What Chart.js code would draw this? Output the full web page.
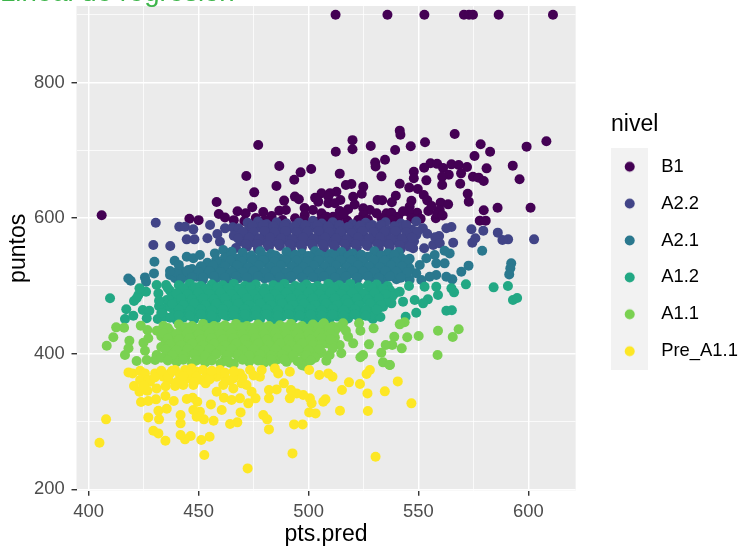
<!DOCTYPE html>
<html><head><meta charset="utf-8">
<style>html,body{margin:0;padding:0;background:#fff}canvas{display:block}</style>
<script src="https://cdn.jsdelivr.net/npm/chart.js@4"></script>
</head><body><canvas id="c" width="742" height="548"></canvas>
<script>
const niveles = ['B1','A2.2','A2.1','A1.2','A1.1','Pre_A1.1'];
const colores = ['#440154','#414487','#2A788E','#22A884','#7AD151','#FDE725'];
const xMajor = [400,450,500,550,600];
const xMinor = [425,475,525,575];
const yMajor = [200,400,600,800];
const yMinor = [300,500,700,900];
// x,y pairs
const B1 = [512.3,900,535.9,900,552.7,900,570.7,900,573,900,574.8,900,586.5,900,611.2,900,
541.5,729,541.8,723,566.5,724,553,712,546.5,706,520,715,520,701.5,528.3,706.4,512.4,698,539.4,700.5,578.3,709,582.6,698,575.5,691.6,599.2,705.4,608.2,713.3,
534.8,686,530.3,682,530.5,676,592.9,677.4,581,673.4,514.2,665.6,533.2,661.6,555.5,680.8,558.5,680,561.2,674,565,679.3,568.3,678.4,572.1,675.4,552.6,674.4,547.9,668.5,547.9,658.7,569.4,666,563.8,664,560.8,661,553.6,655.7,574.8,661,577.4,659.7,579.7,654.8,596,657.2,569,650.8,560.8,648.9,541.5,650.8,545.8,645,549.7,643,519.5,650.3,517,648.9,524.9,646.4,524.2,636,520.3,631.6,512.7,639,509.7,636.6,514.5,626.7,572.4,636,572.9,624.3,552.4,634,554,626.2,539.7,633,537.9,623.3,531.4,626.7,533.5,626.3,546.8,625.7,546,616.9,560.1,622.8,563.5,620.3,559.7,612,554.5,610.5,549.4,608,545.5,609.5,586,615.4,601,615.4,579.7,611.5,577.9,596.3,580.6,596.3,557.9,599.7,558.5,607,546.8,599.7,540.8,602,535.5,607,537.7,608,533.2,599.7,527.9,612,524.9,614.4,524.9,604.6,522.6,597.2,518,613,514.2,610.5,517.6,596.3,511.2,602,513.5,600,
405.9,604.1,445.8,599.2,477.1,707.9,486.7,676.9,471.7,662.1,496.4,667.5,501.2,672.5,493.5,656.7,485.4,647.4,475.3,638,458.2,623.8,459.2,606.1,467.7,610,471.4,607,474.4,615.9,470.8,595.8,479.4,609,483.2,603.1,483.2,595.8,486.7,611,488.9,625.8,489.7,612,488.2,597.2,493.8,631.7,495.6,627.7,498.2,615,498.3,604.6,493.9,599.7,505.9,636.6,504.4,624.3,509,631.7,505.9,607,509,621.8,508.2,602.2,
502,612,507,598,503,630,512,622,516,606,521,620,527,598,531,607,538,597,543,610,551,599,556,618,561,604,505,596,498,597,476,600,480,597,466,597,462,601,450,597];
const A22 = [602.6,568.7,590.8,568.7,588.2,567.7,579.5,581.5,574.1,583.5,586.1,578.6,575.9,570.2,574.5,563.8,565.8,563.8,565,586.9,562.7,585,559.4,573.6,557.6,571.7,552.6,555.5,556.7,560.4,559.7,562.8,547.6,555.5,
429.4,560.3,437.1,558.9,430.5,593.3,441.2,587.4,443.8,587.4,447.6,583.4,444.6,568.7,448.1,568.7,454,570.2,455.2,589.8,458.5,576.6,459.7,565.2,462,584.9,465.5,586.4,
472.3,593,477,595,481,591,485.5,594,490,592,495.6,593,502,596,506,592,511,594,520,591,526,593,529,590,535,594,542,592,549,595,
468.2,585,473,583,477.6,586,482,584,487,582,492,585,497,583,502,586,507,584,512,582,517,585,522,583,527,586,532,584,537,582,542,586,547,583,552,585,
466,574,471,576,475.5,573,480,577,485,574,490,576,495,572,500,575,505,577,510,574,515,576,520,573,525,575,530,577,535,574,540,576,545,573,549,575,554,577,
469,566,474,564,479,567,484,565,489,568,494,564,499,566,504,568,509,565,514,567,519,564,524,566,529,568,534,565,539,567,544,564,548,566,
467,556,472,558,477,555,482,557,487,559,492,555,497,557,502,559,507,556,512,558,517,555,522,557,527,559,532,556,537,558,542,555,546,558,
474.5,589,479.5,590,484,588,489,590,493.5,588,498.5,590,504,589,509,588,514,590,518,587,523.5,589,528,587,533,590,539,588,544.5,590,
470,580,475,579,480,581,484.5,579,489.5,581,494.5,579,499.5,580,504.5,581,509.5,579,514.5,580,519.5,578,524.5,581,529.5,579,534.5,580,539.5,581,544.5,579,549.5,580,
468,570,473,571,477.5,570,482.5,571,487.5,570,492.5,569,497.5,571,502.5,570,507.5,571,512.5,570,517.5,569,522.5,571,527.5,570,532.5,571,537.5,569,542.5,570,547,571,
471.5,561,476.5,562,481.5,560,486.5,562,491.5,561,496.5,560,501.5,562,506.5,561,511.5,560,516.5,562,521.5,561,526.5,560,531.5,562,536.5,561,541.5,560];
const A21 = [579,552,572.8,529.9,569.5,521,592.2,533.3,591.8,526,591.3,517,565.4,509.7,562.7,513.6,558.1,516,555.1,513.6,551.3,508.7,561.9,533.3,558.1,533.3,564.2,548,561.9,552,557.4,545.6,553.6,540.7,550.6,530.8,549,518.6,
418,511,419.1,507.7,425.6,512.6,426.1,506.3,429.7,518.5,429.9,535.7,439.1,537.2,437,516,439.3,511.2,441.5,523.5,444.6,543,447.6,540.7,450.6,545.6,445.3,523.5,449.1,513.6,453.7,528.4,457.4,548,461.2,553,465,550.5,458.2,533.3,
470,549,478,551,483,547,490,550,497,548,503,551,510,547,515,550,520,548,530,551,536,548,541,550,
462,542,467,540,472,542,477,539,482,542,487,540,492,543,497,539,502,541,507,543,512,540,517,542,522,539,527,543,532,541,537,539,542,542,546,540,
454,534,460,532,465,535,470,533,475,531,480,534,485,532,490,535,495,533,500,531,505,534,510,532,515,535,520,531,525,534,530,532,535,535,540,531,545,534,
447,525,452,524,457,526,462,523,467,526,472,524,477,527,482,524,487,526,492,523,497,526,502,524,507,527,512,524,517,526,522,523,527,526,532,524,537,527,542,524,546,526,
443,517,449,516,454,518,459,516,464,518,469,515,474,518,479,516,484,518,489,515,494,517,499,519,504,516,509,518,514,515,519,518,524,516,529,518,534,515,539,517,544,516,
446,510,452,509,458,511,463,508,468,511,474,509,480,511,486,508,492,511,498,509,504,511,510,508,516,511,522,509,528,511,534,508,540,510,546,509,
465,546,474,545,479.5,544,485,545,494,546,500,544,505,546,512,545,518,544,524,546,533,545,539,546,
458,538,464.5,537,469.5,536,474.5,537,479.5,538,484.5,536,489.5,538,494.5,537,499.5,536,504.5,538,509.5,536,514.5,538,519.5,537,524.5,536,529.5,538,534.5,537,539.5,536,544.5,538,
451,529,456.5,530,462,529,467.5,530,472.5,528,477.5,530,482.5,528,487.5,530,492.5,529,497.5,528,502.5,530,507.5,529,512.5,530,517.5,528,522.5,530,527.5,529,532.5,528,537.5,530,542.5,529,
445,521,450,520,455,522,460,520,465,521,470,520,475,522,480,520,485,522,490,520,495,522,500,521,505,520,510,522,515,520,520,522,525,521,530,520,535,522,540,521,545,520,
447,513,452,512,457,514,462,512,467,514,472,512,477,514,482,512,487,513,492,514,497,512,502,513,507,514,512,512,517,514,522,512,527,514,532,512,537,514,542,512,
440,520,441,531,442,510,437,522];
const A12 = [409.7,481.7,417.1,465.5,416.5,451.2,420.3,456.1,424.6,464.5,427.6,463.5,426.4,452.2,420.6,477.7,422.6,486.6,426.1,491.5,423.1,496.4,430.9,501.3,431.7,489,435.2,501.3,435.5,479.2,434,466.9,431.4,451.2,434.7,454.6,440,449.7,421.8,481.7,
509.6,451.2,529.3,451.2,532.7,454.1,544.2,454.6,549,460.5,562.7,463.5,565.2,464,593,479.2,594.9,482.2,590.7,499.9,584.2,497.9,571.6,502.3,566.2,490.5,565,496.4,558.9,486.6,558.1,498.9,554.3,480.2,552.1,474.3,548.3,479.2,545.7,499.9,543,476.8,541.5,491.5,537.7,474.3,539.2,489,533.9,469.4,552.8,498.9,
441,501,446,503,451,500,456,502,461,501,466,503,471,500,476,502,484,501,489,503,494,500,499,502,504,500,509,503,514,501,519,503,527,501,531,502,536,500,
437,493,442,492,447,494,452,491,457,493,462,495,467,492,472,494,477,491,482,493,487,495,492,492,497,494,502,491,507,493,512,495,517,492,522,494,527,491,532,493,537,494,
438,484,443,486,448,483,453,485,458,487,463,484,468,486,473,483,478,485,483,487,488,484,493,486,498,483,503,485,508,487,513,484,518,486,523,483,528,485,533,487,538,484,
440,477,445,475,450,478,455,476,460,478,465,475,470,477,475,479,480,476,485,478,490,475,495,477,500,479,505,476,510,478,515,475,520,477,525,479,530,476,535,478,
437,469,442,468,447,470,452,467,457,469,462,471,467,468,472,470,477,467,482,469,487,471,492,468,497,470,502,467,507,469,512,471,517,468,522,470,527,467,532,468,
439,461,444,460,449,462,454,459,459,461,464,463,469,460,474,462,479,459,484,461,489,463,494,460,499,462,504,459,509,461,514,463,519,460,524,462,529,459,
437,453,443,453,448,451,453,454,458,452,463,455,468,452,473,454,478,451,483,453,488,455,493,452,498,454,503,451,508,453,513,455,518,452,523,454,528,455,
455,447,470,447,485,448,500,447,
443,497,448.5,498,453.5,496,458.5,498,463.5,497,468.5,496,473.5,498,480,497,486.5,498,491.5,496,496.5,498,501.5,497,506.5,496,511.5,498,516.5,497,523,498,529,497,534,496,
440,489,445,488,450,490,455,488,460,490,465,488,470,490,475,488,480,490,485,488,490,490,495,488,500,490,505,488,510,490,515,488,520,490,525,488,530,490,535,488,
442,481,447,480,452,482,457,480,462,482,467,480,472,482,477,480,482,482,487,480,492,482,497,480,502,482,507,480,512,482,517,480,522,482,527,480,532,482,
438,473,443,472,448,474,453,472,458,474,463,472,468,474,473,472,478,474,483,472,488,474,493,472,498,474,503,472,508,474,513,472,518,474,523,472,528,474,533,472,
441,465,446,464,451,466,456,464,461,466,466,464,471,466,476,464,481,466,486,464,491,466,496,464,501,466,506,464,511,466,516,464,521,466,526,464,531,465,
441,457,446,456,451,458,456,456,461,458,466,456,471,458,476,456,481,458,486,456,491,458,496,456,501,458,506,456,511,458,516,456,521,458,526,456,
432,470,433,460,432,478,436,497];
const A11 = [408.2,411.9,411.2,424.2,412.5,438.9,416.1,438.4,418.5,419.2,418.1,408,416.5,398.1,423.7,441.4,426.7,435,427.1,422.7,424.9,416.3,425.6,404.5,430.9,398.1,421.8,389.3,426.4,390.8,430.2,390.8,435.5,393.2,
558.9,434,568.3,436,565.6,424.6,558.7,398.1,550.1,426.1,544.9,424.2,539,425.1,543.7,446.3,541.5,443.3,542.4,407.9,538.1,412.9,535.1,412.9,533.1,401.5,533.9,387.3,536.9,383.4,529.6,437.4,527.5,413.8,523.6,434,523,444.8,524.8,398.1,523.6,394.7,520.3,415.3,518,425.1,515.7,444.8,513.4,438.9,514.9,400.6,508.1,389.8,509.6,398.1,505.1,400.6,514.2,412.9,508.1,415.3,508.1,437.4,
498.3,382,537,383.3,464.3,386.8,
434,441,441,443,447,441,452,444,457,441,462,442,467,444,472,441,477,443,482,441,487,442,492,444,497,441,502,443,507,445,511,440,
431,434,437,433,442,435,447,433,452,435,457,432,462,434,467,436,472,433,477,435,482,432,487,434,492,436,497,433,502,435,507,432,512,434,517,434,
433,426,438,425,443,427,448,424,453,426,458,428,463,425,468,427,473,424,478,426,483,428,488,425,493,427,498,424,503,426,508,428,512,424,
435,418,440,417,445,419,450,416,455,418,460,420,465,417,470,419,475,416,480,418,485,420,490,417,495,419,500,416,505,418,511,420,
433,410,438,409,443,411,448,408,453,410,458,412,463,409,468,411,473,408,478,410,483,412,488,409,493,411,498,408,503,410,511,408,
436,402,441,401,446,403,451,400,456,402,461,404,466,401,471,403,476,400,481,402,486,404,491,401,496,403,501,400,506,402,
433,394,438,393,444,395,450,392,456,394,462,392,468,395,474,393,480,395,486,392,492,394,498,392,503,394,
440,388,447,386,453,387,460,386,466,385,473,388,480,387,484,386,490,388,497,383,
436,438,444,439,449.5,437,454.5,438,459.5,439,464.5,438,469.5,439,474.5,438,479.5,439,484.5,437,489.5,439,494.5,438,499.5,437,504.5,439,509.5,438,
434,430,440,429,445,431,450,429,455,431,460,429,465,431,470,429,475,431,480,429,485,431,490,429,495,431,500,429,505,431,510,429,
436,422,441,421,446,423,451,421,456,423,461,421,466,423,471,421,476,423,481,421,486,423,491,421,496,423,501,421,506,423,510,421,
437,414,442,413,447,415,452,413,457,415,462,413,467,415,472,413,477,415,482,413,487,415,492,413,497,415,502,413,506,414,
435,406,440,405,445,407,450,405,455,407,460,405,465,407,470,405,475,407,480,405,485,407,490,405,495,407,500,405,505,407,
438,398,443,397,448,399,453,397,458,399,463,397,468,399,473,397,478,399,483,397,488,399,493,397,499,398,
436,390,443,391,449,390,456,390,463,389,470,391,477,390,483,391,489,391,495,389,501,390];
const PreA11 = [404.9,268.8,407.9,303.2,472.3,230.9,452.6,250.6,492.7,253,530.5,248.1,546.8,326.8,540.6,359.2,534.7,344.5,527,315.5,526.8,341.5,523.4,355.3,518.4,357.8,515.2,346.5,514.3,316,506.7,329.2,507.7,332.7,503.2,312,500.3,313.5,501.4,326.8,500.6,334.2,497.6,339.1,494.6,341.5,491.5,334.2,492,346.5,488.8,356.3,485.5,347.4,482,346.5,482,334.2,479.4,309.6,481.2,303.2,482,288.4,493.4,295.8,497.3,295.8,469.1,313.5,467.6,298.8,464.3,296.3,460.5,317,456.8,301.2,452.4,303.2,449.1,307.1,450.6,314.5,447.6,317,455.6,325.3,455,277.6,451.2,272.7,446.4,278.6,443.8,273.7,441.8,280.1,434.9,271.7,431.7,282.5,429.4,286.5,432,303.2,427.1,306.1,431.7,316,435.5,318.9,438.7,330.2,441.8,309.6,441.8,297.3,430.6,332.7,423.8,328.8,427.1,330.2,434.9,337.6,444.6,333.2,447.3,335.1,449.4,329.2,458.2,344,461.5,335.1,465,331.7,468.8,334.2,472.6,326.8,475.9,334.2,474.1,344,469.6,356.3,465.8,348.9,464.3,360.2,471.8,353.8,461.2,353.8,527.9,376,526.4,370,509,371,510.9,366.1,504.9,368.6,500.3,376,491.5,373.5,486.2,371,484.7,378.4,477.9,366.1,478.7,376,473.4,376,468.8,371,465.8,363.7,418.1,372.5,420,371,423.4,375,425.6,371,420.6,352.4,423.1,344,423.4,361.2,426.7,345.5,427.9,358.7,430.2,371,430.9,348.9,434,366.1,437,371,439.3,376,439.3,352.4,441.5,361.2,443.8,376,444.6,363.7,446.8,368.6,447.6,353.8,449.1,373.5,451.4,361.2,453.7,371,453.2,356.3,458.2,366.1,459.7,376,462,363.7,443,353.8,436.2,361.2,427.1,361.2,441.5,368.6,446.8,378.4,455.9,368.6,
433,375,436,366,440,358,445,372,449,366,452,376,455,362,438,375,443,367,448,358,430,365,425,353,435,352,456,375,462,372,466,374,470,365,475,368];
const series = [B1,A22,A21,A12,A11,PreA11];
const toPoints = a => { const p=[]; for(let i=0;i<a.length;i+=2) p.push({x:a[i],y:a[i+1]}); return p; };

const R = 5;
const keyW = 41, keyH = 37, keyBox = 37;
function keyImage(col){
  const k=document.createElement('canvas'); k.width=keyW; k.height=keyH;
  const g=k.getContext('2d');
  g.fillStyle='#F2F2F2'; g.fillRect(0,0,keyBox,keyH);
  g.fillStyle=col; g.beginPath(); g.arc(18.7,18.5,R,0,Math.PI*2); g.fill();
  return k;
}
const FONT='"Liberation Sans", Arial, sans-serif';
const LPAD=18.5;
const panelPlugin={id:'panel',
  beforeDraw(ch){const a=ch.chartArea,g=ch.ctx;g.save();g.fillStyle='#EBEBEB';g.fillRect(a.left,a.top,a.right-a.left,a.bottom-a.top);g.restore();},
  afterLayout(ch){
    const l=ch.legend; l.left=611-LPAD; l.right=742;
    if(!l._shifted){ l._shifted=true; const d=l.drawTitle; l.drawTitle=function(){const c=this.ctx;c.save();c.translate(LPAD,0);d.call(this);c.restore();}; }
  }
};
function noPad(s){s.paddingTop=0;s.paddingBottom=0;s.paddingLeft=0;s.paddingRight=0;}
function axis(title,major,minor,min,max,extra,titlePad,tickPad){
  const all=major.concat(minor).sort((a,b)=>a-b);
  return Object.assign({type:'linear',min,max,
    border:{display:false},
    afterBuildTicks(s){s.ticks=all.map(v=>({value:v}));},
    grid:{color:'#FFFFFF',lineWidth:c=>major.includes(c.tick.value)?1.45:0.72,
      tickColor:c=>major.includes(c.tick.value)?'#333333':'rgba(0,0,0,0)',tickWidth:1.4,tickLength:5,drawOnChartArea:true},
    ticks:{autoSkip:false,maxRotation:0,color:'#4D4D4D',font:{family:FONT,size:18.4},padding:tickPad,
      callback:v=>major.includes(v)?String(v):''},
    title:{display:true,text:title,color:'#000',font:{family:FONT,size:23},padding:titlePad}
  },extra);
}
new Chart(document.getElementById('c'),{
  type:'scatter',
  plugins:[panelPlugin],
  data:{datasets:niveles.map((n,i)=>({label:n,data:toPoints(series[i]),backgroundColor:colores[i],borderWidth:0,pointRadius:R,pointHoverRadius:R,order:niveles.length-i,clip:false}))},
  options:{responsive:false,animation:false,devicePixelRatio:1,
    layout:{autoPadding:false,padding:{top:6,right:11,bottom:0,left:0}},
    scales:{
      x:axis('pts.pred',xMajor,xMinor,394.45,621.5,{afterFit(s){s.height=57.3;noPad(s);}},{top:0,bottom:0},4.8),
      y:axis('puntos',yMajor,yMinor,198,912.8,{afterFit(s){s.width=76.5;noPad(s);}},{top:5,bottom:0},6.8)
    },
    plugins:{
      tooltip:{enabled:false},
      title:{display:true,text:'Lineal de regresión',align:'start',color:'#3DB54A',
        font:{family:FONT,size:27.6,weight:'normal'},padding:{top:-29.6,bottom:-3.5}},
      legend:{position:'right',align:'start',
        title:{display:true,text:'nivel',color:'#000',font:{family:FONT,size:23},position:'start',padding:{top:106.7,bottom:-1.3}},
        labels:{usePointStyle:true,pointStyleWidth:keyW,padding:LPAD,color:'#000',font:{family:FONT,size:18.4},
          generateLabels:()=>niveles.map((n,i)=>({text:n,pointStyle:keyImage(colores[i]),fillStyle:colores[i],strokeStyle:colores[i],lineWidth:0,hidden:false,datasetIndex:i,fontColor:'#000'}))}
      }
    }
  }
});
</script></body></html>
